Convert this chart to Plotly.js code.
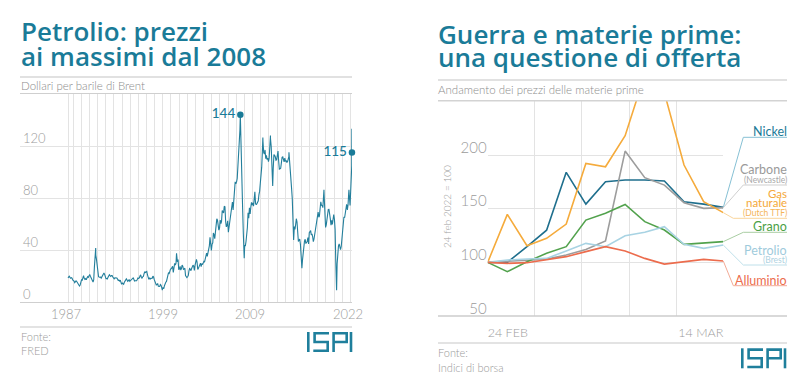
<!DOCTYPE html>
<html><head><meta charset="utf-8">
<script src="https://cdn.plot.ly/plotly-3.0.1.min.js"></script>
<style>html,body{margin:0;padding:0;background:#fff}#chart{width:808px;height:392px}</style>
</head><body><div id="chart"></div>
<script>
// ---------------- DATA ----------------
// Left chart: Brent, monthly averages from May 1987, plus daily extremes
const brentStart = [1987, 5];
const brentMonthly = [
 18.58,18.86,19.86,18.98,18.31,18.76,18.37,17.07,
 16.75,16.13,14.92,15.51,16.23,15.73,14.85,14.96,13.72,12.36,13.09,15.89,
 17.13,16.82,18.56,20.29,18.19,17.37,17.91,17.06,18.39,19.44,18.99,20.29,
 21.16,19.82,18.42,16.42,16.56,15.32,17.20,27.21,34.90,36.02,32.82,27.72,
 23.52,19.53,19.07,19.14,19.16,18.37,19.48,19.69,20.55,22.26,21.24,18.47,
 17.96,18.08,17.75,18.98,19.98,20.99,20.30,19.65,20.34,20.37,19.27,18.29,
 17.83,18.53,18.63,18.67,18.43,17.60,16.52,16.79,16.14,16.79,14.93,13.67,
 14.59,13.83,13.70,15.22,16.29,16.93,17.79,16.94,15.92,16.37,17.38,15.95,
 16.55,17.08,17.04,18.49,18.57,17.44,16.09,16.32,16.45,16.34,17.34,18.48,
 18.18,18.60,19.94,20.88,19.05,18.17,19.37,19.64,21.75,23.34,22.72,23.67,
 23.47,20.78,19.19,17.41,18.75,17.66,18.20,18.51,18.25,19.87,19.21,17.17,
 15.42,14.22,13.09,13.38,14.28,12.13,12.13,11.93,13.43,12.88,11.05,9.82,
 11.11,10.27,12.52,15.30,15.24,15.84,19.05,20.22,22.55,22.01,24.62,25.46,
 25.55,27.56,27.43,22.75,27.40,29.70,28.46,29.87,32.96,30.84,32.59,24.91,
 25.46,27.45,24.50,25.69,28.36,27.54,24.89,25.52,25.94,20.36,18.82,18.74,
 19.42,20.28,23.70,25.73,25.35,24.08,25.74,26.65,28.40,27.54,24.34,28.33,
 31.18,32.77,30.61,25.00,25.86,27.65,28.35,29.89,27.11,29.61,28.75,29.81,
 31.28,30.86,33.63,33.59,37.57,35.18,38.22,42.74,43.20,49.78,43.11,39.60,
 44.51,45.48,53.10,51.88,48.65,54.35,57.52,63.98,62.91,58.54,55.24,56.86,
 62.99,60.21,62.06,70.26,69.78,68.56,73.67,73.23,61.96,57.81,58.76,62.47,
 53.68,57.56,62.05,67.49,67.21,71.05,76.93,70.76,77.17,82.34,92.41,90.93,
 92.18,94.99,103.64,109.07,122.80,132.32,132.72,113.24,97.23,71.58,52.45,39.95,
 43.44,43.32,46.54,50.18,57.30,68.61,64.44,72.51,67.65,72.77,76.66,74.46,
 76.17,73.75,78.83,84.82,75.95,74.76,75.58,77.04,77.84,82.67,85.28,91.45,
 96.52,103.72,114.64,123.26,114.99,113.83,116.97,110.22,112.83,109.55,110.77,107.87,
 110.69,119.33,125.45,119.75,110.34,95.16,102.62,113.36,112.86,111.71,109.06,109.49,
 112.96,116.05,108.47,102.25,102.56,102.92,107.93,111.28,111.60,109.08,107.79,110.76,
 108.12,108.90,107.48,107.76,109.54,111.80,106.77,101.61,97.09,87.43,79.44,62.34,
 47.76,58.10,55.89,59.52,64.08,61.48,56.56,46.52,47.62,48.43,44.27,38.01,
 30.70,32.18,38.21,41.58,46.74,48.25,44.95,45.84,46.57,49.52,44.73,53.31,
 54.58,54.87,51.59,52.31,50.33,46.37,48.48,51.70,56.15,57.51,62.71,64.37,
 69.08,65.32,66.02,72.11,76.98,74.41,74.25,72.53,78.89,81.03,64.75,57.36,
 59.41,63.96,66.14,71.23,71.32,64.22,63.92,59.04,62.83,59.71,63.21,67.31,
 63.65,55.66,32.01,18.38,29.38,40.27,43.24,44.74,40.91,40.19,42.69,49.99,
 54.77,62.28,65.41,64.81,68.53,73.16,75.17,70.75,74.49,83.54,81.05,74.17,
 86.51,97.13
];
const brentSpikeDates = ['1990-10-11','1998-12-10','2000-09-07','2008-07-03','2008-12-24','2011-04-08','2012-03-13','2012-06-21','2014-06-19','2016-01-20','2018-10-03','2020-04-21','2021-10-26','2022-03-01','2022-03-08','2022-03-10'];
const brentSpikeValues = [41.45, 9.10, 37.4, 143.95, 33.73, 126.6, 128.1, 89.2, 115.1, 26.0, 86.3, 9.12, 86.4, 105.0, 133.2, 115];
const leftYearLabels = ['1987','1999','2009','2022'];
const leftYTicks = [0, 40, 80, 120];

// Right chart: commodity price indices (24 feb 2022 = 100), trading days
const tradingDays = ['24 feb','25 feb','28 feb','1 mar','2 mar','3 mar','4 mar','7 mar','8 mar','9 mar','10 mar','11 mar','14 mar'];
const nickel    = [100, 100, 114.6, 130, 183.9, 154.3, 175.2, 176.7, 176.7, 175.8, 156.5, 154.3, 151.2];
const carbone   = [100, 101, 102, 103, 106.8, 112, 119.9, 203.7, 178.9, 172, 155.6, 150.3, 151];
const gas       = [100, 144.7, 115.5, 122.4, 135.7, 192.2, 189.1, 218, 275, 258, 190.7, 156.5, 146.3];
const grano     = [100, 91.3, 100.6, 108.4, 114.6, 139.4, 145.7, 154, 137.9, 130.1, 116.8, 118.3, 119.3];
const petrolio  = [100, 102.2, 103.1, 103.7, 110.6, 117.7, 114.6, 124.8, 128, 133.2, 116.8, 113, 116.1];
const alluminio = [100, 99, 99.7, 102.2, 105.3, 110, 114.6, 110.6, 103.7, 98.4, 100.6, 102.8, 101.2];
const seriesNames = ['Nickel','Carbone','Gas naturale','Grano','Petrolio','Alluminio'];
const rightXLabels = ['24 FEB','14 MAR'];
const rightYTicks = [50, 100, 150, 200];

// ---------------- LAYOUT HELPERS ----------------
const W = 808, H = 392;
const fx = px => px / W, fy = py => 1 - py / H;
const FONT = 'Lato, "Open Sans", sans-serif';
const TFONT = '"Open Sans", Lato, sans-serif';
const TEAL = '#1a7b98';
const GRID = '#e3e3e3';
const TICKC = '#9b9b9b';

// Build Brent series (dates)
const bx = [], by = [];
brentMonthly.forEach((v, i) => {
  const m = brentStart[1] - 1 + i;
  const y = brentStart[0] + Math.floor(m / 12);
  const mm = (m % 12) + 1;
  bx.push(`${y}-${String(mm).padStart(2,'0')}-${i === 0 ? '20' : '15'}`);
  by.push(v);
});
brentSpikeDates.forEach((d, i) => { bx.push(d); by.push(brentSpikeValues[i]); });
const order = bx.map((d, i) => i).sort((a, b) => bx[a] < bx[b] ? -1 : bx[a] > bx[b] ? 1 : 0);
const brentX = order.map(i => bx[i]), brentY = order.map(i => by[i]);

// left x range: first data at px 68, end at px 352, domain 20..352
const startMs = Date.parse(brentX[0]);
const endMs = Date.parse('2022-03-12');
const msPerPx = (endMs - startMs) / (352 - 68);
const leftMs = startMs - (68 - 20) * msPerPx;
const pxToDate = px => new Date(leftMs + (px - 20) * msPerPx).toISOString().slice(0, 10);
const gridDates = [brentX[0]];
for (let y = 1988; y <= 2022; y++) gridDates.push(`${y}-01-01`);
const leftLabelPx = [66, 163, 250, 348];
const leftLabelDates = leftLabelPx.map(pxToDate);

// highlighted points
let iMax = 0; brentY.forEach((v, i) => { if (v > brentY[iMax]) iMax = i; });
const iLast = brentY.length - 1;

// right chart label positions (layout)
const rightSeries = [nickel, carbone, gas, grano, petrolio, alluminio];
const lineColors = ['#1f6f8d', '#9d9d9d', '#f5ab3c', '#52a24d', '#a8d3e3', '#ec6c4d'];
const connColors = ['#86c0d4', '#cfcfcf', '#f9d59c', '#a9cda3', '#bfe0ea', '#f3ab97'];
const labelColors = ['#1b7a98', '#9a9a9a', '#f4a83a', '#4b9f47', '#9fcbdc', '#ec6c4d'];
const rPxPerUnit = (723.3 - 487.7) / 12;
const xEndUnits = (787 - 487.7) / rPxPerUnit;
const kinkPx = [743.3, 743.3, 733.3, 743.3, 743.3, 733.3];
const underlinePx = [137.3, 185, 218.3, 232.3, 265, 285.7];
const yTopPx = 100.7, yBotPx = 316;
const yRange = [50, 50 + (yBotPx - yTopPx) / ((262.3 - 155) / 100)];
const pyToVal = py => yRange[0] + (yBotPx - py) * (yRange[1] - yRange[0]) / (yBotPx - yTopPx);

// ---------------- TRACES ----------------
const traces = [];
traces.push({
  x: brentX, y: brentY, type: 'scatter', mode: 'lines',
  line: { color: '#237f9c', width: 1.1 }, xaxis: 'x', yaxis: 'y', hoverinfo: 'skip'
});
traces.push({
  x: [brentX[iMax], brentX[iLast]], y: [brentY[iMax], brentY[iLast]],
  type: 'scatter', mode: 'markers+text',
  text: [String(Math.round(brentY[iMax])), String(Math.round(brentY[iLast]))],
  textposition: 'middle left',
  textfont: { family: FONT, size: 13.5, color: TEAL, weight: 500 },
  marker: { color: TEAL, size: 6.5 }, xaxis: 'x', yaxis: 'y', cliponaxis: false
});
// empty traces so that the label-only overlay axes are created
traces.push({ x: [], y: [], type: 'scatter', mode: 'lines', xaxis: 'x4', yaxis: 'y' });
traces.push({ x: [], y: [], type: 'scatter', mode: 'lines', xaxis: 'x5', yaxis: 'y2' });
traces.push({ x: [], y: [], type: 'scatter', mode: 'lines', xaxis: 'x6', yaxis: 'y2' });

const dayIdx = tradingDays.map((d, i) => i);
rightSeries.forEach((s, k) => {
  const ly = pyToVal(underlinePx[k]);
  traces.push({
    x: [dayIdx[dayIdx.length - 1], (kinkPx[k] - 487.7) / rPxPerUnit, xEndUnits],
    y: [s[s.length - 1], ly, ly], type: 'scatter', mode: 'lines',
    line: { color: connColors[k], width: 1 }, xaxis: 'x3', yaxis: 'y3'
  });
});
rightSeries.forEach((s, k) => {
  traces.push({
    x: dayIdx, y: s, type: 'scatter', mode: 'lines', name: seriesNames[k],
    line: { color: lineColors[k], width: 1.6 }, xaxis: 'x2', yaxis: 'y2'
  });
});

// ---------------- ANNOTATIONS ----------------
const ann = [];
function txt(text, px, py, size, color, opts = {}) {
  ann.push(Object.assign({
    text, x: fx(px), y: fy(py), xref: 'paper', yref: 'paper',
    xanchor: 'left', yanchor: 'middle', showarrow: false,
    font: { family: opts.family || FONT, size, color, weight: opts.weight || 400 }
  }, opts.extra || {}));
}
// titles
txt('Petrolio: prezzi', 19, 31, 26, TEAL, { weight: 600, family: TFONT });
txt('ai massimi dal 2008', 19, 56.5, 26, TEAL, { weight: 600, family: TFONT });
txt('Dollari per barile di Brent', 19, 86, 11.5, '#8c8c8c', { weight: 300 });
txt('Guerra e materie prime:', 435.5, 33.5, 26, TEAL, { weight: 600, family: TFONT });
txt('una questione di offerta', 435.5, 57.5, 26, TEAL, { weight: 600, family: TFONT });
txt('Andamento dei prezzi delle materie prime', 436, 89.5, 11.5, '#8c8c8c', { weight: 300 });
// footers
txt('Fonte:', 19, 336, 11, '#9a9a9a', { weight: 300 });
txt('FRED', 19, 350, 11, '#9a9a9a', { weight: 300 });
txt('Fonte:', 436, 352, 11, '#9a9a9a', { weight: 300 });
txt('Indici di borsa', 436, 367, 11, '#9a9a9a', { weight: 300 });
// y title right
txt('24 feb 2022 = 100', 447, 207, 10, '#a0a0a0', { weight: 300, extra: { textangle: -90, xanchor: 'center' } });
// right series labels
const labelLines = [
  [['Nickel', 131.3, 12.5]],
  [['Carbone', 169.5, 12.5], ['(Newcastle)', 179.5, 8.5]],
  [['Gas', 193, 11.5], ['naturale', 202.8, 11.5], ['(Dutch TTF)', 213, 8.5]],
  [['Grano', 226.7, 12.5]],
  [['Petrolio', 250.2, 12.5], ['(Brest)', 260.4, 8.5]],
  [['Alluminio', 280.8, 12.5]]
];
labelLines.forEach((lines, k) => {
  lines.forEach(([t, py, sz]) => {
    txt(t, 788, py, sz, labelColors[k], { extra: { xanchor: 'right', borderpad: 0, opacity: sz < 9 ? 0.85 : 1 } });
  });
});

// ---------------- SHAPES (separators + logos) ----------------
const shapes = [];
function hline(x0, x1, py, color, width) {
  shapes.push({ type: 'line', xref: 'paper', yref: 'paper', x0: fx(x0), x1: fx(x1), y0: fy(py), y1: fy(py), line: { color, width } });
}
hline(20, 352, 77, '#d7d7d7', 1.6);
hline(20, 352, 327, '#dadada', 1.4);
hline(438, 787, 80, '#d7d7d7', 1.6);
hline(438, 787, yTopPx, '#d3d3d3', 1.4);
hline(438, 787, yBotPx, '#cdcdcd', 1.4);
hline(438, 787, 343, '#dadada', 1.4);
function logo(x0, y0, s) {
  const P = pts => 'M' + pts.map(([a, b]) => `${fx(x0 + a * s)},${fy(y0 + b * s)}`).join(' L');
  const paths = [
    P([[1.3, 0], [1.3, 20]]),
    P([[22, 1.3], [7.6, 1.3], [7.6, 10], [20.7, 10], [20.7, 18.7], [6.3, 18.7]]),
    P([[26.6, 20], [26.6, 1.3], [39.7, 1.3], [39.7, 10], [26.6, 10]]),
    P([[44, 0], [44, 20]])
  ];
  paths.forEach(p => shapes.push({ type: 'path', xref: 'paper', yref: 'paper', path: p, line: { color: '#1f7f9c', width: 2.6 * s } }));
}
logo(307, 332, 1.0);
logo(741, 348.3, 1.0);

// ---------------- LAYOUT ----------------
const tickFontL = { family: FONT, size: 13, color: TICKC, weight: 300 };
const tickFontR = { family: FONT, size: 15, color: TICKC, weight: 300 };
const xLabFontR = { family: FONT, size: 12.5, color: TICKC, weight: 300 };
const layout = {
  width: W, height: H, margin: { l: 0, r: 0, t: 0, b: 0 },
  paper_bgcolor: '#ffffff', plot_bgcolor: 'rgba(0,0,0,0)', showlegend: false,
  font: { family: FONT },
  xaxis: {
    domain: [fx(20), fx(352)], type: 'date', range: [leftMs, endMs], anchor: 'y',
    tickmode: 'array', tickvals: gridDates, showticklabels: false, ticks: '',
    showgrid: true, gridcolor: GRID, gridwidth: 1, zeroline: false,
    showline: true, mirror: true, linecolor: '#cfcfcf', linewidth: 1.4
  },
  xaxis4: {
    overlaying: 'x', type: 'date', range: [leftMs, endMs], anchor: 'y',
    tickmode: 'array', tickvals: leftLabelDates, ticktext: leftYearLabels,
    showgrid: false, ticks: '', zeroline: false, showline: false,
    tickfont: tickFontL, ticklabelstandoff: 3
  },
  yaxis: {
    domain: [fy(302), fy(94)], range: [0, 160], anchor: 'x',
    tickmode: 'array', tickvals: leftYTicks, ticklabelposition: 'inside',
    ticklabelshift: -8,
    tickfont: tickFontL, showgrid: true, gridcolor: GRID, zeroline: false,
    showline: false, ticks: ''
  },
  xaxis2: {
    domain: [fx(487.7), fx(723.3)], range: [0, 12], anchor: 'y2',
    tickmode: 'array', tickvals: [0, 2.4, 4.8, 7.2, 9.6, 12], showticklabels: false, ticks: '',
    showgrid: true, gridcolor: GRID, zeroline: false, showline: false
  },
  xaxis5: {
    overlaying: 'x2', range: [0, 12], anchor: 'y2', tickmode: 'array',
    tickvals: [0], ticktext: [rightXLabels[0]], ticklabelposition: 'outside right',
    showgrid: false, zeroline: false, ticks: '', tickfont: xLabFontR, ticklabelstandoff: 7
  },
  xaxis6: {
    overlaying: 'x2', range: [0, 12], anchor: 'y2', tickmode: 'array',
    tickvals: [12], ticktext: [rightXLabels[1]], ticklabelposition: 'outside left',
    showgrid: false, zeroline: false, ticks: '', tickfont: xLabFontR, ticklabelstandoff: 7
  },
  yaxis2: {
    domain: [fy(yBotPx), fy(yTopPx)], range: yRange, anchor: 'x2',
    tickmode: 'array', tickvals: rightYTicks, ticklabelposition: 'outside top',
    ticklabelshift: 3,
    tickfont: tickFontR, showgrid: true, gridcolor: GRID, zeroline: false,
    showline: false, ticks: ''
  },
  xaxis3: { domain: [fx(487.7), fx(787)], range: [0, xEndUnits], anchor: 'y3', visible: false },
  yaxis3: { domain: [fy(yBotPx), fy(yTopPx)], range: yRange, anchor: 'x3', visible: false },
  annotations: ann, shapes
};
Plotly.newPlot('chart', traces, layout, { staticPlot: true, displayModeBar: false });
</script></body></html>
